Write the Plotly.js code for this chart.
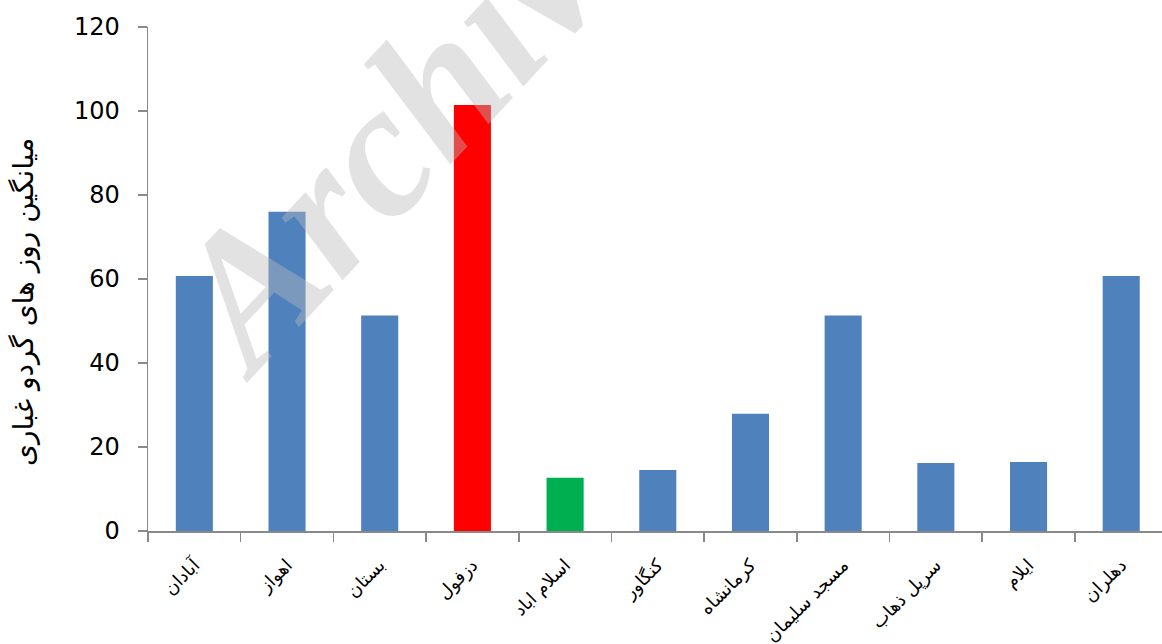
<!DOCTYPE html>
<html>
<head>
<meta charset="utf-8">
<script src="https://cdn.plot.ly/plotly-3.0.1.min.js"></script>
<style>html,body{margin:0;padding:0;background:#fff;overflow:hidden}#chart{width:1162px;height:644px}</style>
</head>
<body>
<div id="chart"></div>
<script>
var cities = ["آبادان","اهواز","بستان","دزفول","اسلام اباد","کنگاور","کرمانشاه","مسجد سلیمان","سرپل ذهاب","ایلام","دهلران"];
var dustDays = [60.7, 76.0, 51.3, 101.4, 12.7, 14.5, 27.9, 51.3, 16.2, 16.4, 60.7];
var barColors = ["#4F81BD","#4F81BD","#4F81BD","#FF0000","#00B050","#4F81BD","#4F81BD","#4F81BD","#4F81BD","#4F81BD","#4F81BD"];
var yTitle = "میانگین روز های گردو غباری";
var watermark = "Archive";

var trace = {
  type: "bar",
  x: cities,
  y: dustDays,
  marker: {color: barColors, line: {width: 0}},
  hoverinfo: "x+y"
};

var axisGray = "#898989";
var layout = {
  width: 1162, height: 644,
  margin: {l: 148, r: 0, t: 27, b: 113, pad: 0},
  paper_bgcolor: "#fff", plot_bgcolor: "#fff",
  bargap: 0.6,
  showlegend: false,
  font: {family: "DejaVu Sans", color: "#000"},
  xaxis: {
    type: "category",
    range: [-0.5, 10.44],
    showline: true, linecolor: axisGray, linewidth: 1.5,
    ticks: "outside", tickson: "boundaries", ticklen: 9, tickcolor: axisGray, tickwidth: 1.5,
    tickangle: -45,
    ticklabelstandoff: 15,
    tickfont: {family: "DejaVu Sans", size: 18, color: "#000"},
    showgrid: false, zeroline: false,
    fixedrange: true
  },
  yaxis: {
    range: [0, 120],
    tickvals: [0, 20, 40, 60, 80, 100, 120],
    showline: true, linecolor: axisGray, linewidth: 1.5,
    ticks: "outside", ticklen: 9, tickcolor: axisGray, tickwidth: 1.5,
    ticklabelstandoff: 13,
    tickfont: {family: "DejaVu Sans", size: 24, color: "#000"},
    showgrid: false, zeroline: false,
    fixedrange: true
  },
  annotations: [{
    text: "<b><i>" + watermark + "</i></b>",
    xref: "paper", yref: "paper",
    x: (412 - 148) / 1014, y: (531 - 112) / 504,
    xanchor: "center", yanchor: "middle",
    showarrow: false,
    textangle: -47,
    font: {family: "Liberation Serif", size: 190, color: "rgba(186,186,186,0.42)"}
  }, {
    text: yTitle,
    xref: "paper", yref: "paper",
    x: (23 - 148) / 1014, y: (531 - 302) / 504,
    xanchor: "center", yanchor: "middle",
    showarrow: false,
    textangle: -90,
    font: {family: "DejaVu Sans", size: 28, color: "#000"}
  }]
};

Plotly.newPlot("chart", [trace], layout, {displayModeBar: false, staticPlot: true});
</script>
</body>
</html>
